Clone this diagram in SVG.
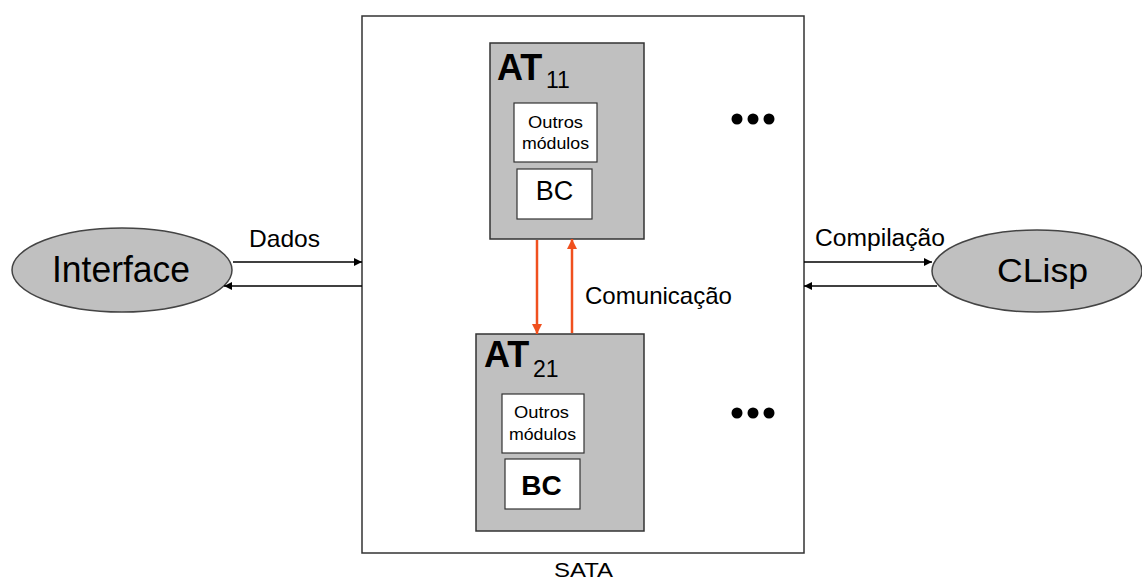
<svg xmlns="http://www.w3.org/2000/svg" width="1142" height="584" viewBox="0 0 1142 584">
<style>
text{font-family:"Liberation Sans",Arial,sans-serif;fill:#000}
.box{fill:#fff;stroke:#333;stroke-width:1.5}
.at{fill:#c0c0c0;stroke:#333;stroke-width:1.5}
.in{fill:#fff;stroke:#333;stroke-width:1.2}
.ell{fill:#c0c0c0;stroke:#444;stroke-width:1.5}
.blk{stroke:#000;stroke-width:1.3;fill:none}
.red{stroke:#f0501e;stroke-width:2.5;fill:none}
</style>
<defs>
<marker id="ab" viewBox="0 0 10 10" refX="10" refY="5" markerWidth="10" markerHeight="8" markerUnits="userSpaceOnUse" orient="auto"><path d="M0,0L10,5L0,10z" fill="#000"/></marker>
<marker id="ar" viewBox="0 0 10 10" refX="10" refY="5" markerWidth="11" markerHeight="10" markerUnits="userSpaceOnUse" orient="auto"><path d="M0,0L10,5L0,10z" fill="#f0501e"/></marker>
</defs>
<rect width="1142" height="584" fill="#fff"/>
<g id="sata">
<rect class="box" x="362" y="16" width="442" height="537"/>
<text x="554" y="577" font-size="21" textLength="59" lengthAdjust="spacingAndGlyphs">SATA</text>
</g>
<g id="at11">
<rect class="at" x="490" y="43" width="154" height="196"/>
<text x="497" y="80" font-size="36" font-weight="bold">AT</text>
<text x="546" y="88" font-size="23">11</text>
<rect class="in" x="514" y="103" width="83" height="59"/>
<text x="528" y="128" font-size="17" textLength="55" lengthAdjust="spacingAndGlyphs">Outros</text>
<text x="522" y="149" font-size="17" textLength="67" lengthAdjust="spacingAndGlyphs">módulos</text>
<rect class="in" x="517" y="169" width="75" height="50"/>
<text x="554.5" y="200" font-size="27" text-anchor="middle">BC</text>
</g>
<g id="at21">
<rect class="at" x="476" y="334" width="168" height="197"/>
<text x="484" y="367" font-size="36" font-weight="bold">AT</text>
<text x="533" y="377" font-size="23">21</text>
<rect class="in" x="502" y="394" width="82" height="59"/>
<text x="514" y="418" font-size="17" textLength="55" lengthAdjust="spacingAndGlyphs">Outros</text>
<text x="509" y="440" font-size="17" textLength="67" lengthAdjust="spacingAndGlyphs">módulos</text>
<rect class="in" x="505" y="459" width="75" height="50"/>
<text x="541.5" y="495" font-size="28" font-weight="bold" text-anchor="middle">BC</text>
</g>
<g id="dots1">
<circle cx="737" cy="119" r="5.5"/><circle cx="753" cy="119" r="5.5"/><circle cx="769" cy="119" r="5.5"/>
</g>
<g id="dots2">
<circle cx="737" cy="413" r="5.5"/><circle cx="753" cy="413" r="5.5"/><circle cx="769" cy="413" r="5.5"/>
</g>
<g id="interface">
<ellipse class="ell" cx="122" cy="270" rx="110" ry="42"/>
<text x="52" y="282" font-size="37" textLength="138" lengthAdjust="spacingAndGlyphs">Interface</text>
</g>
<g id="clisp">
<ellipse class="ell" cx="1037" cy="271" rx="105" ry="41"/>
<text x="997" y="282" font-size="34" textLength="91" lengthAdjust="spacingAndGlyphs">CLisp</text>
</g>
<g id="connectors">
<line class="blk" x1="233" y1="262" x2="362" y2="262" marker-end="url(#ab)"/>
<line class="blk" x1="362" y1="286" x2="224" y2="286" marker-end="url(#ab)"/>
<text x="249" y="247" font-size="24" textLength="71" lengthAdjust="spacingAndGlyphs">Dados</text>
<line class="blk" x1="804" y1="262" x2="932" y2="262" marker-end="url(#ab)"/>
<line class="blk" x1="937" y1="286" x2="804" y2="286" marker-end="url(#ab)"/>
<text x="815" y="246" font-size="23" textLength="130" lengthAdjust="spacingAndGlyphs">Compilação</text>
<line class="red" x1="537" y1="240" x2="537" y2="334" marker-end="url(#ar)"/>
<line class="red" x1="572" y1="333" x2="572" y2="239" marker-end="url(#ar)"/>
<text x="585" y="304" font-size="24" textLength="147" lengthAdjust="spacingAndGlyphs">Comunicação</text>
</g>
</svg>
